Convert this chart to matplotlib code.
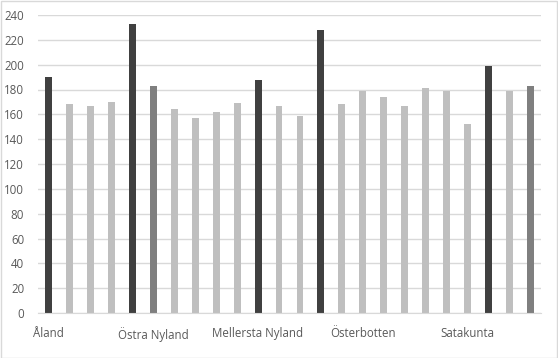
import matplotlib.pyplot as plt
from matplotlib.patches import Rectangle

# bar heights, left to right
values = [190, 168, 167, 170, 233, 183, 164, 157, 162, 169, 188, 167,
          159, 228, 168, 179, 174, 167, 181, 179, 152, 199, 179, 183]
# 0 = dark, 1 = mid, 2 = light
shade = [0, 2, 2, 2, 0, 1, 2, 2, 2, 2, 0, 2,
         2, 0, 2, 2, 2, 2, 2, 2, 2, 0, 2, 1]
palette = ['#404040', '#7f7f7f', '#bfbfbf']

labels = [''] * len(values)
labels[0] = 'Åland'
labels[5] = 'Östra Nyland'
labels[10] = 'Mellersta Nyland'
labels[15] = 'Österbotten'
labels[20] = 'Satakunta'

plt.rcParams['font.family'] = ['Open Sans', 'DejaVu Sans']

W, H = 558, 358
fig = plt.figure(figsize=(W / 100, H / 100), dpi=100)
ax = fig.add_axes([38 / W, (H - 313) / H, (541 - 38) / W, (313 - 15) / H])

x = list(range(len(values)))
ax.bar(x, values, width=0.33, color=[palette[s] for s in shade], zorder=3)

ax.set_xlim(-0.5, len(values) - 0.5)
ax.set_ylim(0, 240)
ax.set_yticks(range(0, 241, 20))
ax.yaxis.grid(True, color='#d9d9d9', linewidth=1, zorder=0)

ax.set_xticks(x)
ax.set_xticklabels(labels)
ax.tick_params(axis='both', length=0, labelsize=8.3, labelcolor='#595959')
ax.tick_params(axis='y', pad=10)
ax.tick_params(axis='x', pad=10)

for side in ['top', 'right', 'left']:
    ax.spines[side].set_visible(False)
ax.spines['bottom'].set_color('#d9d9d9')
ax.spines['bottom'].set_zorder(4)

# chart border
fig.patches.append(Rectangle((0.5 / W, 0.5 / H), 1 - 1.5 / W, 1 - 1.5 / H,
                             transform=fig.transFigure, fill=False,
                             edgecolor='#d9d9d9', linewidth=1))

fig.savefig('out.png', dpi=100)
